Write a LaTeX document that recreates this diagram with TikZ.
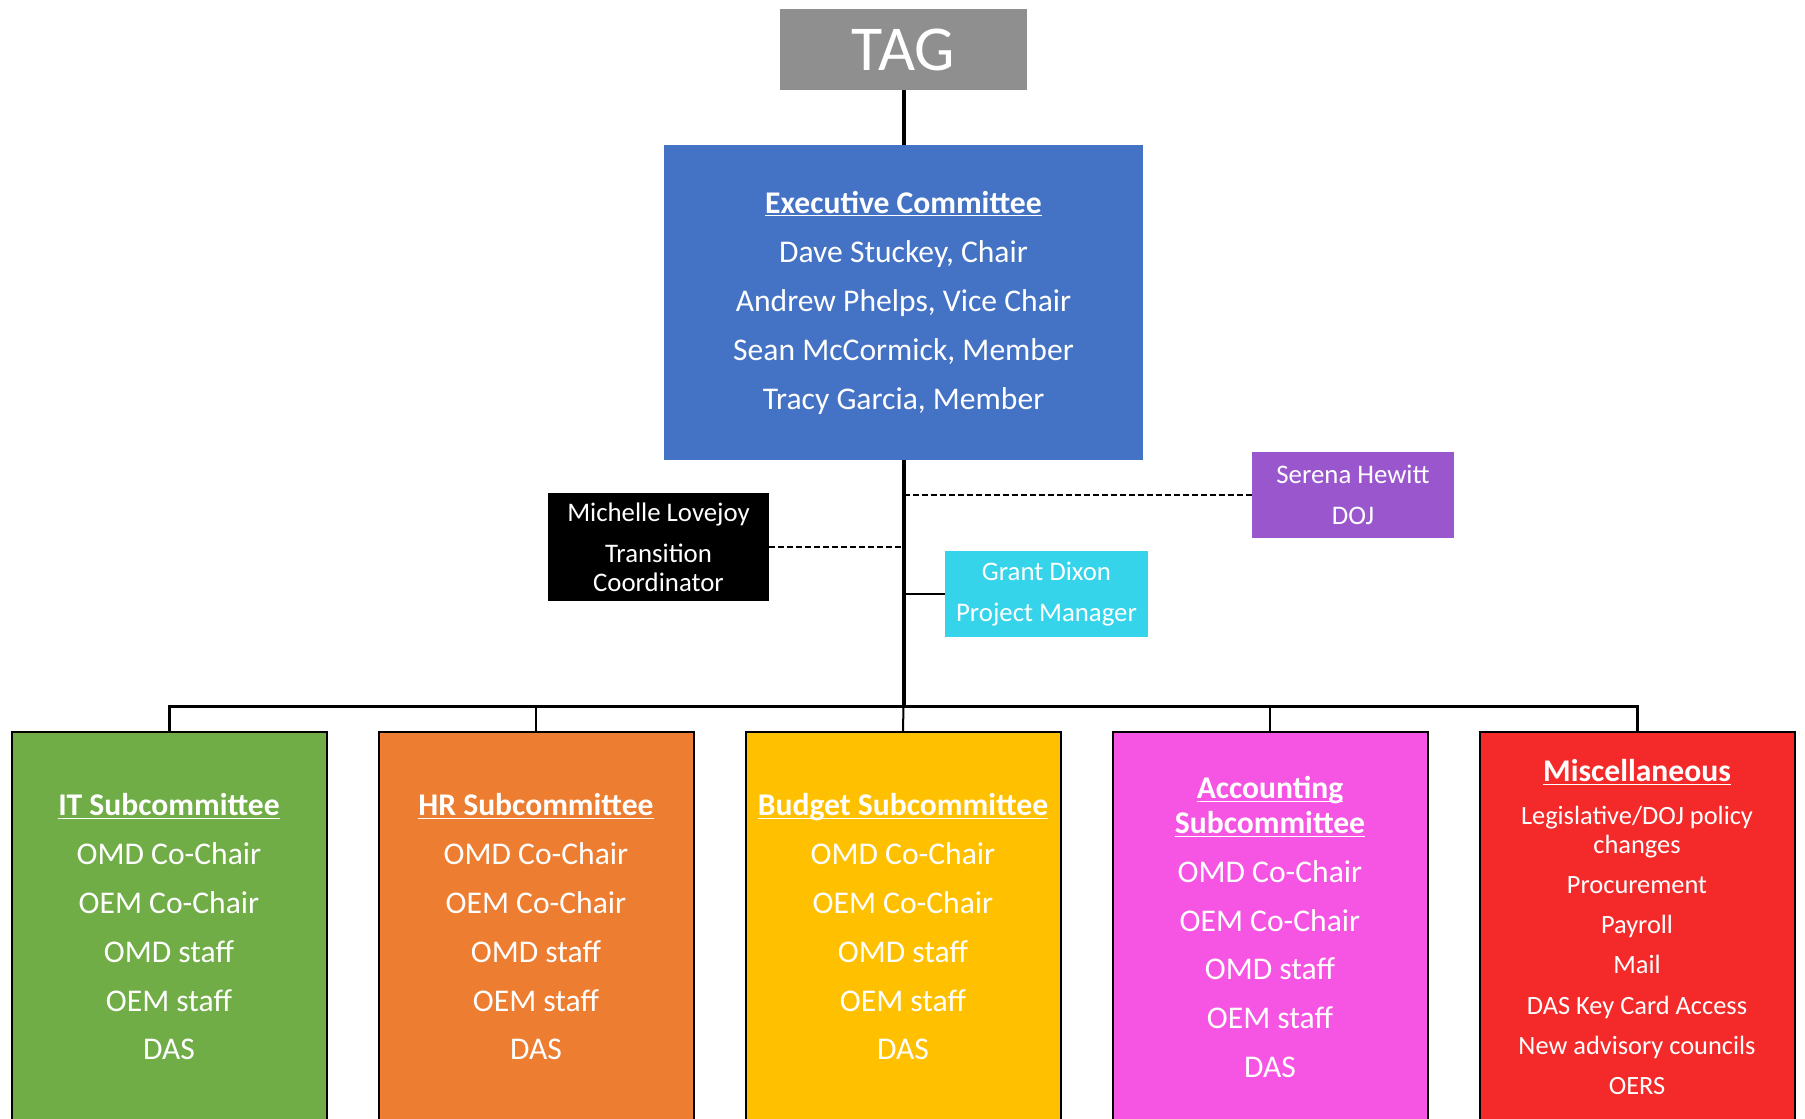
\documentclass[tikz,border=0pt]{standalone}
\usepackage{fontspec}
\setmainfont{Carlito}
\usepackage{xcolor}
\usetikzlibrary{arrows.meta, positioning}

\definecolor{taggray}{HTML}{8F8F8F}
\definecolor{execblue}{HTML}{4472C4}
\definecolor{dojpurple}{HTML}{9A57CD}
\definecolor{pmcyan}{HTML}{36D4EA}
\definecolor{itgreen}{HTML}{70AD47}
\definecolor{hrorange}{HTML}{ED7D31}
\definecolor{budgetyellow}{HTML}{FFC000}
\definecolor{acctpink}{HTML}{F655E3}
\definecolor{miscred}{HTML}{F42A2A}

% underlined heading whose rule does not drop under descenders
\newcommand{\headline}[1]{\underline{\raisebox{0pt}[\height][0pt]{\textbf{#1}}}}

\begin{document}
\begin{tikzpicture}[
        x=0.5pt, y=-0.5pt, % one unit = one pixel of the sheet
        >=Stealth,
        box/.style={inner sep=0pt, align=center, text=white},
        tagbox/.style={box, fill=taggray, minimum width=123.5pt, minimum height=40.5pt,
            font=\fontsize{32}{38}\selectfont},
        execbox/.style={box, fill=execblue, minimum width=239.5pt, minimum height=157.5pt,
            font=\fontsize{15.8}{24.5}\selectfont},
        staffbox/.style={box, minimum width=101pt, minimum height=43pt,
            font=\fontsize{13.4}{20.5}\selectfont},
        subbox/.style={box, draw=black, line width=1pt, minimum width=157.5pt, minimum height=195pt,
            font=\fontsize{15.8}{24.4}\selectfont},
        trunk/.style={line width=2pt},
        branch/.style={line width=1pt},
        liaison/.style={line width=1.4pt, dash pattern=on 3pt off 1.5pt},
    ]

    % --- INTERNAL FIGURE PARAMETERS ---
    \pgfmathsetmacro{\figwidth}{1805}
    \pgfmathsetmacro{\figheight}{1119}
    \pgfmathsetmacro{\midx}{903.5}
    \pgfmathsetmacro{\busy}{706}
    \pgfmathsetmacro{\subgap}{367}
    \pgfmathsetmacro{\suby}{927}

    % Sheet
    \clip (0,0) rectangle (\figwidth,\figheight);

    % TAG and Executive Committee
    \node[tagbox] (tag) at (\midx,49.5) {TAG};
    \node[execbox] (exec) at (\midx,302.5)
        {\headline{Executive Committee}\\
         Dave Stuckey, Chair\\
         Andrew Phelps, Vice Chair\\
         Sean McCormick, Member\\
         Tracy Garcia, Member};

    % Staff around the trunk
    \node[staffbox, fill=dojpurple] (doj) at (1353,495)
        {Serena Hewitt\\DOJ};
    \node[staffbox, fill=black, minimum width=110.5pt, minimum height=54pt,
        font=\fontsize{13.4}{14.4}\selectfont] (transition) at (658.5,547)
        {Michelle Lovejoy\\[6.3pt]Transition\\Coordinator};
    \node[staffbox, fill=pmcyan, minimum width=101.5pt] (pm) at (1046.5,594)
        {Grant Dixon\\Project Manager};

    % Subcommittees
    \node[subbox, fill=itgreen] (it) at (169,\suby)
        {\headline{IT Subcommittee}\\
         OMD Co-Chair\\OEM Co-Chair\\OMD staff\\OEM staff\\DAS};
    \node[subbox, fill=hrorange] (hr) at ({169+\subgap},\suby)
        {\headline{HR Subcommittee}\\
         OMD Co-Chair\\OEM Co-Chair\\OMD staff\\OEM staff\\DAS};
    \node[subbox, fill=budgetyellow] (budget) at ({169+2*\subgap},\suby)
        {\headline{Budget Subcommittee}\\
         OMD Co-Chair\\OEM Co-Chair\\OMD staff\\OEM staff\\DAS};
    \node[subbox, fill=acctpink] (acct) at ({169+3*\subgap},\suby)
        {\headline{Accounting}\\[-7pt]\headline{Subcommittee}\\
         OMD Co-Chair\\OEM Co-Chair\\OMD staff\\OEM staff\\DAS};
    \node[subbox, fill=miscred, font=\fontsize{13.2}{14.4}\selectfont] (misc) at ({169+4*\subgap},\suby)
        {{\fontsize{15.8}{18}\selectfont\headline{Miscellaneous}}\\[7pt]
         Legislative/DOJ policy\\changes\\[5.7pt]
         Procurement\\[5.7pt]Payroll\\[5.7pt]Mail\\[5.7pt]DAS Key Card Access\\[5.7pt]
         New advisory councils\\[5.7pt]OERS};

    % Connectors
    \coordinate (bus) at (\midx,\busy);
    \draw[trunk] (tag.south) -- (exec.north);
    \draw[trunk] (exec.south) -- (bus);
    \draw[branch] (bus) -- (budget.north);
    \draw[liaison] (exec.south |- doj.west) -- (doj.west);
    \draw[liaison] (transition.east) -- (exec.south |- transition.east);
    \draw[branch] (exec.south |- pm.west) -- (pm.west);
    \draw[branch, line width=1.5pt] (it.north) |- (bus) -| (misc.north);
    \draw[branch] (hr.north) -- (hr.north |- bus);
    \draw[branch] (acct.north) -- (acct.north |- bus);

\end{tikzpicture}
\end{document}
